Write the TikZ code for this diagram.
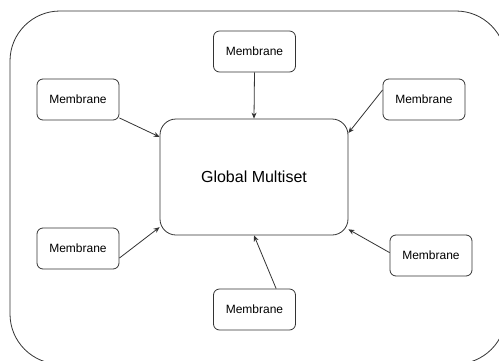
\documentclass[tikz,border=0pt]{standalone}
\usepackage{fontspec}
\setmainfont{Liberation Sans}
\usetikzlibrary{arrows.meta,positioning}
\tikzset{%
	membrane/.style = {draw, rectangle, rounded corners=6pt, minimum width=82pt, minimum height=41pt, text centered, font=\fontsize{12}{14}\selectfont},
	multiset/.style = {draw, rectangle, rounded corners=16pt, minimum width=188pt, minimum height=116pt, text centered, font=\fontsize{16}{19}\selectfont},
	arrow/.style    = {-{Stealth[length=6pt,width=5pt]}},
}
\begin{document}
\begin{tikzpicture}[x=1pt,y=-1pt,line width=0.8pt,draw=black!80]
	\clip (0,0) rectangle (499,360);
	\draw[rounded corners=50pt] (10,11) rectangle (506,364);
	\node[multiset] (gm) at (254,177) {Global Multiset};
	\node[membrane] (mt) at (254.5,51.5) {Membrane};
	\node[membrane] (mlt) at (78,99.5) {Membrane};
	\node[membrane] (mrt) at (424,99.5) {Membrane};
	\node[membrane] (mlb) at (78,248.5) {Membrane};
	\node[membrane] (mrb) at (431,255.5) {Membrane};
	\node[membrane] (mb) at (254.5,309.5) {Membrane};
	\draw[arrow] (mt.south) -- (gm.north);
	\draw[arrow] (mlt.-24) -- (gm.157);
	\draw[arrow] (mrt.167) -- (gm.25);
	\draw[arrow] (mlb.-13) -- (gm.208);
	\draw[arrow] (mrb.176) -- (gm.-29);
	\draw[arrow] (mb.44) -- (gm.south);
\end{tikzpicture}
\end{document}
